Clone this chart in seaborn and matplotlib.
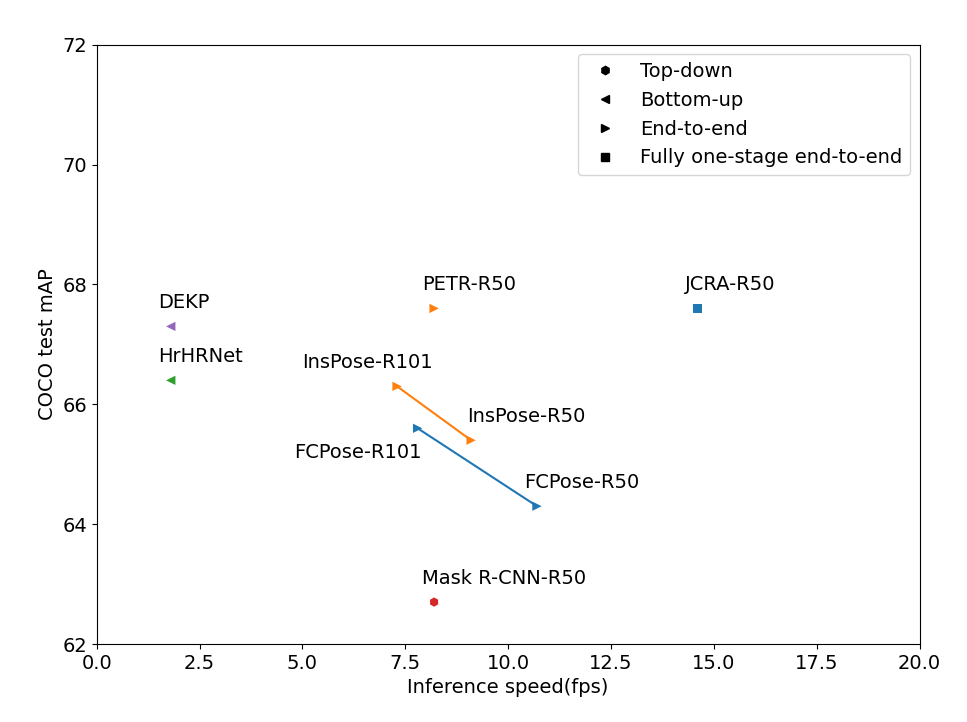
import pandas as pd
import matplotlib
matplotlib.use("Agg")
import matplotlib.pyplot as plt
from matplotlib.lines import Line2D
import seaborn as sns

# data
methods = ["DEKP", "HrHRNet", "PETR-R50", "JCRA-R50", "InsPose-R101",
           "InsPose-R50", "FCPose-R101", "FCPose-R50", "Mask R-CNN-R50"]
fps = [1.8, 1.8, 8.2, 14.6, 7.3, 9.1, 7.8, 10.7, 8.2]
mAP = [67.3, 66.4, 67.6, 67.6, 66.3, 65.4, 65.6, 64.3, 62.7]
kind = ["Bottom-up", "Bottom-up", "End-to-end", "Fully one-stage end-to-end",
        "End-to-end", "End-to-end", "End-to-end", "End-to-end", "Top-down"]
colors = ["tab:purple", "tab:green", "tab:orange", "tab:blue", "tab:orange",
          "tab:orange", "tab:blue", "tab:blue", "tab:red"]
label_x = [1.5, 1.5, 7.9, 14.3, 5.0, 9.0, 4.8, 10.4, 7.9]
label_y = [67.6, 66.7, 67.9, 67.9, 66.6, 65.7, 65.1, 64.6, 63.0]

pairs = [("InsPose-R101", "InsPose-R50", "tab:orange"),
         ("FCPose-R101", "FCPose-R50", "tab:blue")]

kinds = ["Top-down", "Bottom-up", "End-to-end", "Fully one-stage end-to-end"]
markers = {"Top-down": "h", "Bottom-up": "<", "End-to-end": ">",
           "Fully one-stage end-to-end": "s"}

df = pd.DataFrame({"method": methods, "fps": fps, "mAP": mAP, "kind": kind,
                   "color": colors, "lx": label_x, "ly": label_y})

plt.rcParams["font.size"] = 14
fig, ax = plt.subplots(figsize=(9.67, 7.22), dpi=100)
fig.subplots_adjust(left=0.1, right=0.951, top=0.938, bottom=0.108)

for a, b, c in pairs:
    sub = df[df["method"].isin([a, b])]
    ax.plot(sub["fps"], sub["mAP"], color=c, lw=1.5, zorder=1)

for _, row in df.iterrows():
    sns.scatterplot(x=[row["fps"]], y=[row["mAP"]], marker=markers[row["kind"]],
                    color=row["color"], s=45, edgecolor="none", ax=ax, zorder=3)
    ax.text(row["lx"], row["ly"], row["method"], fontsize=14)

handles = [Line2D([], [], marker=markers[k], color="black", linestyle="none",
                  markersize=6) for k in kinds]
ax.legend(handles, kinds, loc="upper right", fontsize=14)

ax.set_xlim(0, 20)
ax.set_ylim(62, 72)
ax.set_xlabel("Inference speed(fps)")
ax.set_ylabel("COCO test mAP")

fig.savefig("out.png", dpi=100)
